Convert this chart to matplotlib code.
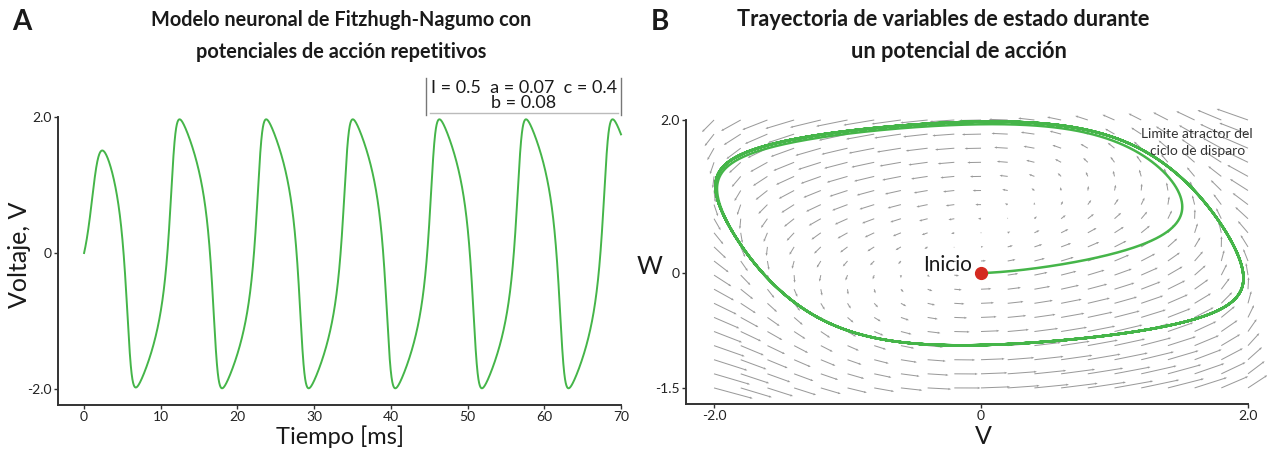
import numpy as np
import matplotlib
matplotlib.use('Agg')
import matplotlib.pyplot as plt

# ---- model parameters (read from the annotation box) ----
I_ext = 0.5
a_par = 0.07
b_par = 0.08
c_par = 0.4
start_v = 0.0
start_w = 0.0
t_end = 70.0
dt = 0.01

# ---- ticks / labels ----
time_ticks = [0, 10, 20, 30, 40, 50, 60, 70]
volt_ticks = [-2.0, 0.0, 2.0]
volt_labels = ['-2.0', '0', '2.0']
v_ticks = [-2.0, 0.0, 2.0]
v_labels = ['-2.0', '0', '2.0']
w_ticks = [-1.5, 0.0, 2.0]
w_labels = ['-1.5', '0', '2.0']

# direction-field grid
field_v = np.linspace(-2.0, 2.0, 21)
field_w = np.linspace(-1.5, 2.0, 20)


def deriv(v, w):
    dv = v - v ** 3 / 3.0 - w + I_ext
    dw = c_par * (v + a_par - b_par * w)
    return dv, dw


# RK4 integration of the FitzHugh-Nagumo model
n = int(round(t_end / dt))
t = np.arange(n + 1) * dt
V = np.empty(n + 1)
W = np.empty(n + 1)
V[0], W[0] = start_v, start_w
for i in range(n):
    v, w = V[i], W[i]
    k1v, k1w = deriv(v, w)
    k2v, k2w = deriv(v + 0.5 * dt * k1v, w + 0.5 * dt * k1w)
    k3v, k3w = deriv(v + 0.5 * dt * k2v, w + 0.5 * dt * k2w)
    k4v, k4w = deriv(v + dt * k3v, w + dt * k3w)
    V[i + 1] = v + dt / 6.0 * (k1v + 2 * k2v + 2 * k3v + k4v)
    W[i + 1] = w + dt / 6.0 * (k1w + 2 * k2w + 2 * k3w + k4w)

plt.rcParams['font.family'] = ['Lato', 'DejaVu Sans']

GREEN = '#45b549'
SPINE = '#333333'
TXT = '#1a1a1a'
FW, FH = 1267.0, 451.0

fig = plt.figure(figsize=(12.67, 4.51), dpi=100)

# ---------------- Panel A ----------------
axA = fig.add_axes([58 / FW, 46 / FH, 563 / FW, 288 / FH])
axA.plot(t, V, color=GREEN, lw=1.4, clip_on=False)
axA.set_xlim(-3.4, 70)
axA.set_ylim(-2.235, 2.0)
axA.set_xticks(time_ticks)
axA.set_xticklabels([str(x) for x in time_ticks])
axA.set_yticks(volt_ticks)
axA.set_yticklabels(volt_labels)
axA.set_xlabel('Tiempo [ms]', fontsize=17, color=TXT)
axA.xaxis.set_label_coords((340 - 58) / 563, -(437 - 405) / 288)
axA.xaxis.label.set_va('center')
axA.set_ylabel('Voltaje, V', fontsize=18, color=TXT)
axA.yaxis.set_label_coords((20 - 58) / 563, 1 - (255 - 117) / 288)
axA.yaxis.label.set_va('center')

fig.text(341 / FW, 1 - 20 / FH, 'Modelo neuronal de Fitzhugh-Nagumo con',
         fontsize=14.3, fontweight='bold', color=TXT, ha='center', va='center')
fig.text(341 / FW, 1 - 52 / FH, 'potenciales de acción repetitivos',
         fontsize=14.3, fontweight='bold', color=TXT, ha='center', va='center')

# parameter box
fig.text(524 / FW, 1 - 88 / FH, 'I = 0.5  a = 0.07  c = 0.4', fontsize=13,
         ha='center', va='center', color=TXT)
fig.text(524 / FW, 1 - 103 / FH, 'b = 0.08', fontsize=13,
         ha='center', va='center', color=TXT)
fig.add_artist(plt.Line2D([426 / FW, 426 / FW], [1 - 78 / FH, 1 - 115 / FH],
                          color='#777777', lw=1))
fig.add_artist(plt.Line2D([621 / FW, 621 / FW], [1 - 78 / FH, 1 - 115 / FH],
                          color='#777777', lw=1))
fig.add_artist(plt.Line2D([430 / FW, 618 / FW], [1 - 113 / FH, 1 - 113 / FH],
                          color='#bbbbbb', lw=1))

# ---------------- Panel B ----------------
axB = fig.add_axes([686 / FW, 47 / FH, 562 / FW, 284 / FH])
VV, WW = np.meshgrid(field_v, field_w)
DV, DW = deriv(VV, WW)
axB.quiver(VV, WW, DV, DW, angles='uv', scale_units='inches', scale=6.9,
           pivot='tail', color='#9a9a9a', width=0.0018, headwidth=2.3,
           headlength=2.8, headaxislength=2.5, clip_on=False, zorder=1)
axB.plot(V, W, color=GREEN, lw=1.8, zorder=3, clip_on=False)
axB.plot([start_v], [start_w], 'o', color='#d42a20', ms=8.5, zorder=4)
axB.text(start_v - 0.07, start_w + 0.03, 'Inicio', fontsize=15, color=TXT,
         ha='right', va='baseline', zorder=5)
axB.text(1.62, 1.7, 'Limite atractor del\nciclo de disparo', fontsize=10,
         color='#333333', ha='center', va='center', linespacing=1.5, zorder=5)
axB.set_xlim(-2.21, 2.0)
axB.set_ylim(-1.71, 2.0)
axB.set_xticks(v_ticks)
axB.set_xticklabels(v_labels)
axB.set_yticks(w_ticks)
axB.set_yticklabels(w_labels)
axB.set_xlabel('V', fontsize=18, color=TXT)
axB.xaxis.set_label_coords((983 - 686) / 562, -(437 - 404) / 284)
axB.xaxis.label.set_va('center')
axB.set_ylabel('W', fontsize=18, color=TXT, rotation=0)
axB.yaxis.set_label_coords((650 - 686) / 562, 1 - (266 - 120) / 284)
axB.yaxis.label.set_va('center')
axB.yaxis.label.set_ha('center')

fig.text(943 / FW, 1 - 20 / FH, 'Trayectoria de variables de estado durante',
         fontsize=15.7, fontweight='bold', color=TXT, ha='center', va='center')
fig.text(959 / FW, 1 - 52 / FH, 'un potencial de acción',
         fontsize=15.7, fontweight='bold', color=TXT, ha='center', va='center')

for ax in (axA, axB):
    for s in ('top', 'right'):
        ax.spines[s].set_visible(False)
    for s in ('left', 'bottom'):
        ax.spines[s].set_color(SPINE)
        ax.spines[s].set_linewidth(1.4)
    ax.tick_params(axis='both', colors=SPINE, labelcolor='#222222', labelsize=10,
                   length=3, width=1, direction='out', pad=1.5)

fig.text(22 / FW, 1 - 22 / FH, 'A', fontsize=20, fontweight='bold', color=TXT,
         ha='center', va='center')
fig.text(660 / FW, 1 - 22 / FH, 'B', fontsize=20, fontweight='bold', color=TXT,
         ha='center', va='center')

fig.savefig('out.png', dpi=100)
